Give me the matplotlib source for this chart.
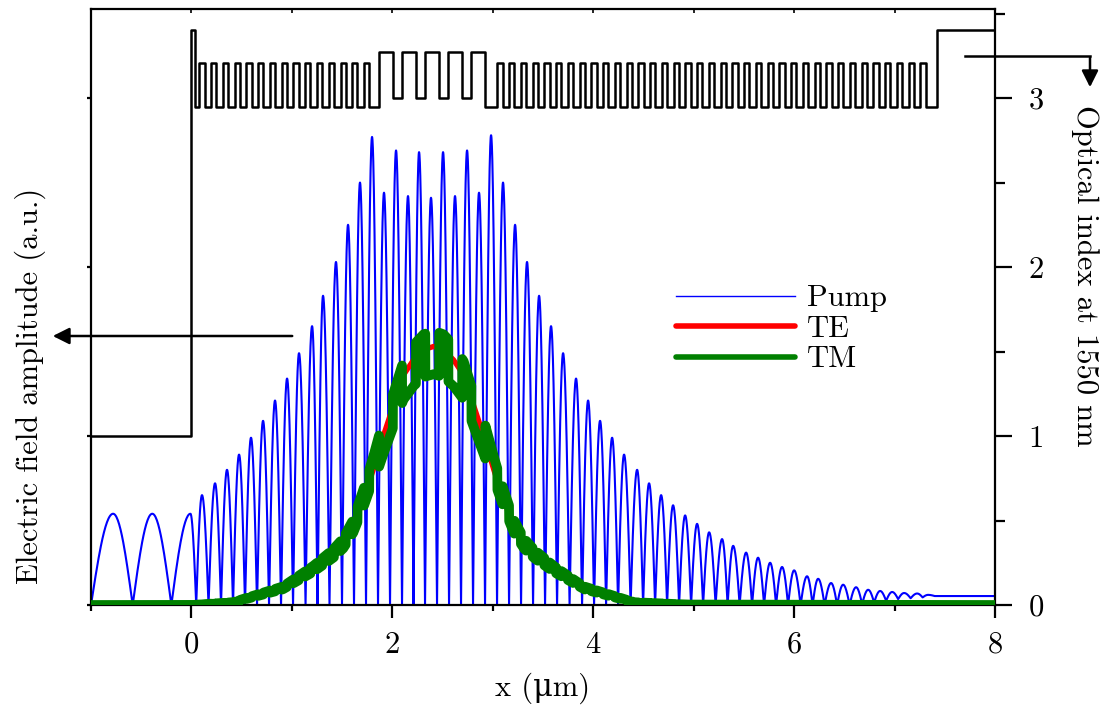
"""
Pump field, TE/TM modes and optical index profile of the Bragg structure.
"""

import numpy as np
import matplotlib
matplotlib.use("Agg")
import matplotlib.pyplot as plt
from matplotlib.lines import Line2D
from matplotlib.patches import FancyArrowPatch

plt.rcParams['font.family'] = ['cmr10', 'DejaVu Serif']
plt.rcParams['axes.unicode_minus'] = False
plt.rcParams['mathtext.fontset'] = 'cm'

# ---- pump field |E| : lobe maxima (x in um)
pump_peak_x = [-0.78, -0.39, -0.01, 0.105, 0.235, 0.354, 0.474, 0.593, 0.713, 0.832,
               0.952, 1.071, 1.201, 1.310, 1.439, 1.559, 1.678, 1.798, 1.917, 2.037,
               2.156, 2.266, 2.385, 2.505, 2.624, 2.744, 2.863, 2.983, 3.102, 3.222,
               3.341, 3.461, 3.580, 3.700, 3.829, 3.949, 4.068, 4.188, 4.307, 4.437,
               4.556, 4.676, 4.795, 4.915, 5.034, 5.154, 5.283, 5.393, 5.522, 5.641,
               5.761, 5.880, 6.000, 6.129, 6.239, 6.368, 6.488, 6.617, 6.737, 6.856,
               6.976, 7.095, 7.225, 7.334]
pump_peak_y = [0.54, 0.54, 0.54, 0.65, 0.72, 0.80, 0.89, 0.99, 1.09, 1.21,
               1.34, 1.49, 1.65, 1.83, 2.03, 2.25, 2.50, 2.77, 2.44, 2.69,
               2.42, 2.68, 2.41, 2.68, 2.42, 2.69, 2.44, 2.78, 2.50, 2.25,
               2.03, 1.83, 1.65, 1.49, 1.34, 1.21, 1.09, 0.99, 0.89, 0.80,
               0.72, 0.65, 0.59, 0.53, 0.48, 0.43, 0.39, 0.35, 0.31, 0.28,
               0.25, 0.225, 0.205, 0.17, 0.155, 0.13, 0.12, 0.105, 0.09, 0.083,
               0.077, 0.071, 0.068, 0.06]
# minima of the last lobes do not reach zero any more (substrate side)
pump_tail_min = [0.0, 0.005, 0.015, 0.025, 0.035, 0.04, 0.045, 0.053]
pump_end_x = 7.40

# ---- TE mode (smooth)
te_x = [-1.0, 0.0, 0.41, 0.91, 1.21, 1.41, 1.51, 1.61, 1.71, 1.81, 1.91, 2.01, 2.11,
        2.21, 2.31, 2.41, 2.51, 2.61, 2.71, 2.81, 2.91, 3.01, 3.11, 3.21, 3.31,
        3.41, 3.61, 3.91, 4.41, 4.91, 8.0]
te_y = [0.0, 0.0, 0.015, 0.10, 0.21, 0.30, 0.36, 0.46, 0.62, 0.80, 1.00, 1.18, 1.36,
        1.45, 1.51, 1.53, 1.51, 1.45, 1.36, 1.18, 1.00, 0.80, 0.62, 0.46, 0.36,
        0.30, 0.21, 0.10, 0.015, 0.003, 0.0]
tm_nref = 3.09  # TM field scales as (n_ref / n)^2 across the layers

# ---- index profile at 1550 nm
n_air, n_sub = 1.0, 3.40
n_hi, n_lo = 3.21, 2.95
n_cav_hi, n_cav_lo = 3.27, 3.00
d_cap, d_first, d_hi, d_lo = 0.04, 0.04, 0.052, 0.065
d_spacer_l, d_spacer_r, d_last = 0.098, 0.12, 0.11
d_cav_hi, d_cav_lo = 0.138, 0.092
n_pairs_left, n_pairs_right, n_cav_layers = 15, 37, 5


def build_stack():
    stack = [(d_cap, n_sub), (d_first, n_lo)]
    for i in range(n_pairs_left):
        stack.append((d_hi, n_hi))
        stack.append((d_lo if i < n_pairs_left - 1 else d_spacer_l, n_lo))
    for i in range(n_cav_layers):
        stack.append((d_cav_hi, n_cav_hi))
        if i < n_cav_layers - 1:
            stack.append((d_cav_lo, n_cav_lo))
    stack.append((d_spacer_r, n_lo))
    for i in range(n_pairs_right):
        stack.append((d_hi, n_hi))
        stack.append((d_lo if i < n_pairs_right - 1 else d_last, n_lo))
    edges = np.concatenate([[0.0], np.cumsum([d for d, n in stack])])
    idx = [n for d, n in stack]
    x = np.concatenate([[-1.0], edges, [8.0]])
    n = np.concatenate([[n_air], idx, [n_sub, n_sub]])
    return x, n


def pump_curve():
    px = np.array(pump_peak_x)
    py = np.array(pump_peak_y)
    mx = np.concatenate([[-1.0], (px[:-1] + px[1:]) / 2, [pump_end_x]])
    my = np.zeros(len(mx))
    my[-len(pump_tail_min):] = pump_tail_min
    t = np.linspace(0, 1, 30)
    xs, ys = [], []
    for i in range(len(px)):
        xs.append(mx[i] + (px[i] - mx[i]) * t)
        ys.append(my[i] + (py[i] - my[i]) * np.sin(np.pi / 2 * t))
        xs.append(px[i] + (mx[i + 1] - px[i]) * t)
        ys.append(my[i + 1] + (py[i] - my[i + 1]) * np.cos(np.pi / 2 * t))
    xs.append([8.0])
    ys.append([my[-1]])
    return np.concatenate(xs), np.concatenate(ys)


W, H = 1107, 709
fig = plt.figure(figsize=(W / 100, H / 100), dpi=100)
ax = fig.add_axes([91 / W, 1 - 605 / H, 904 / W, 596 / H])

# index profile
nx, nn = build_stack()

# pump
xp, yp = pump_curve()
ax.plot(xp, yp, color='#0000ff', lw=1.5, zorder=2)

# TE
ax.plot(te_x, te_y, color='#ff0000', lw=3.8, solid_capstyle='round', zorder=3)

# TM : TE scaled layer by layer
xg = np.linspace(-1, 8, 6000)
layer = np.clip(np.searchsorted(nx, xg, side='right') - 1, 0, len(nn) - 1)
tm = np.interp(xg, te_x, te_y) * (tm_nref / nn[layer]) ** 2
tm[xg < 0] = 0.0
ax.plot(xg, tm, color='#008000', lw=7, solid_capstyle='round',
        solid_joinstyle='round', zorder=4)

ax.step(nx, nn, where='post', color='black', lw=1.8, zorder=5)

ax.set_xlim(-1, 8)
ax.set_ylim(0, 3.527)
for s in ax.spines.values():
    s.set_linewidth(1.6)

ax.set_xticks([0, 2, 4, 6, 8])
ax.set_xticks([-1, 1, 3, 5, 7], minor=True)
ax.tick_params(axis='x', which='major', direction='out', length=9, width=1.6,
               labelsize=22, pad=10)
ax.tick_params(axis='x', which='minor', direction='out', length=4, width=1.6)

ax.yaxis.tick_right()
ax.set_yticks([0, 1, 2, 3])
ax.set_yticks([0.5, 1.5, 2.5, 3.5], minor=True)
ax.tick_params(axis='y', which='major', direction='out', length=12, width=1.6,
               labelsize=22, pad=12, left=True, right=True)
ax.tick_params(axis='y', which='minor', direction='out', length=7, width=1.6,
               left=False, right=True)
for t in ax.yaxis.get_major_ticks():
    t.tick1line.set_markersize(3)

top = ax.secondary_xaxis('top')
top.set_xticks(range(-1, 9))
top.tick_params(direction='in', length=3, width=1.2, labeltop=False)
top.spines['top'].set_visible(False)

fig.text(543 / W, 1 - 688 / H, 'x (\u03bcm)', fontsize=22, ha='center', va='center')
fig.text(30 / W, 1 - 386 / H, 'Electric field amplitude (a.u.)', fontsize=22,
         rotation=90, ha='center', va='center')
fig.text(1085 / W, 1 - 276 / H, 'Optical index at 1550 nm', fontsize=22,
         rotation=-90, ha='center', va='center')

# arrows pointing to the axes
fig.add_artist(FancyArrowPatch((295 / W, 1 - 336 / H), (50 / W, 1 - 336 / H),
                               transform=fig.transFigure, arrowstyle='-|>',
                               mutation_scale=25, lw=1.8, color='black'))
fig.add_artist(Line2D([965 / W, 1090 / W], [1 - 56 / H, 1 - 56 / H],
                      transform=fig.transFigure, color='black', lw=1.8))
fig.add_artist(FancyArrowPatch((1090 / W, 1 - 55 / H), (1090 / W, 1 - 90 / H),
                               transform=fig.transFigure, arrowstyle='-|>',
                               mutation_scale=25, lw=1.8, color='black'))

handles = [Line2D([], [], color='#0000ff', lw=1.0),
           Line2D([], [], color='#ff0000', lw=4, solid_capstyle='round'),
           Line2D([], [], color='#008000', lw=4, solid_capstyle='round')]
fig.legend(handles, ['Pump', 'TE', 'TM'], loc='center left',
           bbox_to_anchor=(676 / W, 1 - 329 / H), frameon=False, fontsize=22,
           handlelength=3.9, handletextpad=0.4, labelspacing=0.1,
           borderpad=0, borderaxespad=0)

plt.savefig('out.png', dpi=100)
